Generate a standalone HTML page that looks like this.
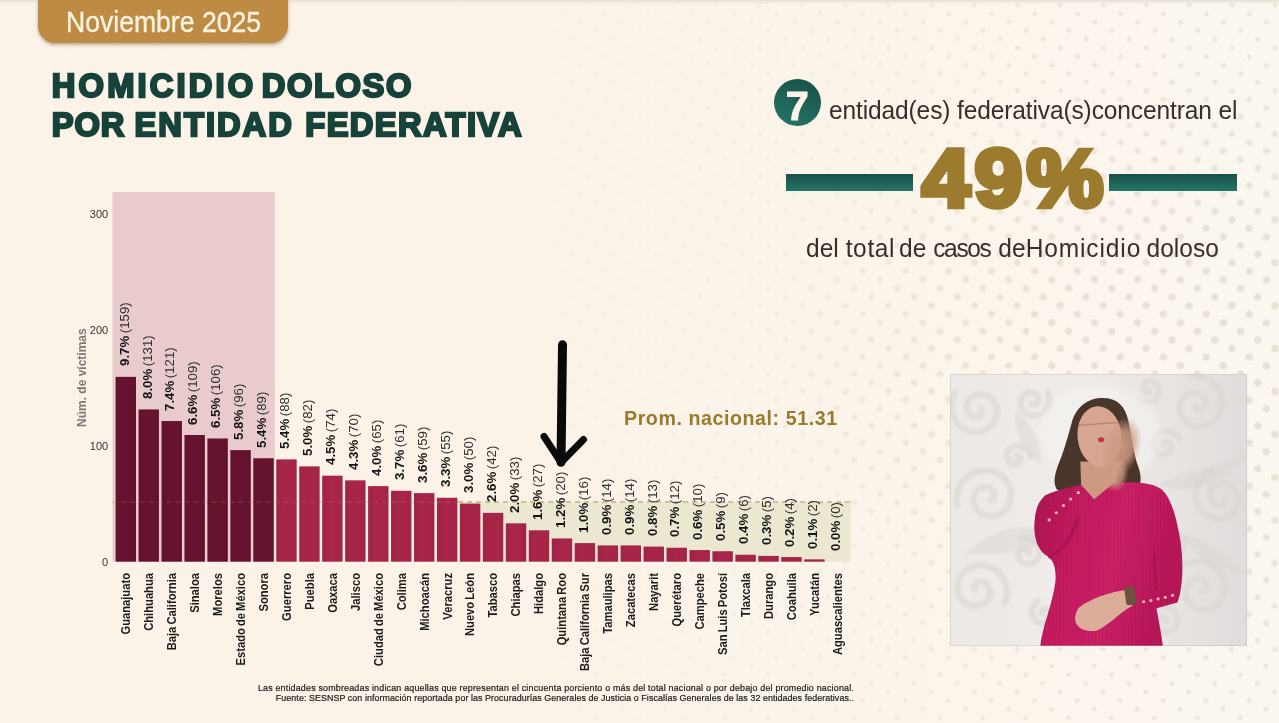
<!DOCTYPE html>
<html lang="es"><head><meta charset="utf-8"><title>Homicidio doloso por entidad federativa</title>
<style>
html,body{margin:0;padding:0}
body{width:1279px;height:723px;overflow:hidden;position:relative;background:#fbf3e8;font-family:"Liberation Sans",sans-serif;color:#222}
#bg{position:absolute;left:0;top:0;width:1279px;height:723px}
.abs{position:absolute}
#tab{position:absolute;left:38.4px;top:0;width:249.6px;height:43.2px;background:#be8b44;border-radius:0 0 17px 17px;box-shadow:0 1.5px 3.5px rgba(110,85,45,.45);color:#fdf3e0;font-size:30.4px;line-height:43px;text-align:center;letter-spacing:0;-webkit-text-stroke:0.35px #fdf3e0}
#title{position:absolute;left:51.8px;top:65.8px;font-weight:bold;font-size:32.7px;line-height:39.3px;color:#17423a;letter-spacing:0.6px;-webkit-text-stroke:2.3px #17423a;paint-order:stroke fill;white-space:nowrap}
.v{position:absolute;width:0;height:0;font-size:13.3px;white-space:nowrap;color:#303030;word-spacing:-1.3px}
.v b{color:#151515}
.v{transform:rotate(-90deg);transform-origin:0 0}
.c{transform:rotate(-90deg) scaleY(1.08);transform-origin:0 0}
.v{line-height:0}
.c{position:absolute;width:0;height:0;font-size:11.2px;font-weight:bold;white-space:nowrap;color:#1b1b1b;line-height:0;word-spacing:-1px}
.c span{position:absolute;right:0;top:0;line-height:0}
  .yt{position:absolute;left:70.2px;width:38px;text-align:right;font-size:11px;color:#333;line-height:12px}
#yl{position:absolute;left:82px;top:426.5px;width:0;height:0;transform:rotate(-90deg);transform-origin:0 0;font-size:12px;font-weight:bold;color:#7a7a7a;white-space:nowrap;line-height:0}
#prom{position:absolute;left:624px;top:406.3px;letter-spacing:0.58px;font-size:19.6px;font-weight:bold;color:#9a7a2c;white-space:nowrap;line-height:24px}
#foot{position:absolute;left:242px;top:682.5px;width:612px;text-align:right;font-size:8.9px;letter-spacing:0.163px;line-height:10.2px;color:#1a1a1a;-webkit-text-stroke:0.2px #1a1a1a;white-space:nowrap}
#r1{position:absolute;left:829px;top:96.4px;font-size:24.5px;letter-spacing:-0.115px;line-height:30px;transform:scaleY(1.05);color:#362f2b;white-space:nowrap}
#r3{position:absolute;left:806px;top:233.9px;font-size:24.5px;letter-spacing:0.04px;line-height:30px;transform:scaleY(1.05);color:#362f2b;white-space:nowrap}
#seven{position:absolute;left:773.5px;top:79px;width:47.4px;height:47.4px;border-radius:50%;background:linear-gradient(200deg,#174f46,#27766a);color:#fbf3e8;font-weight:bold;font-size:41.5px;line-height:54px;text-align:center;-webkit-text-stroke:1px #fbf3e8}
#big{position:absolute;left:922px;top:127.5px;font-size:81.3px;line-height:100px;transform-origin:0 50%;transform:scaleX(1.06);font-weight:bold;color:#9c7a2e;-webkit-text-stroke:5.6px #9c7a2e;letter-spacing:4.2px;white-space:nowrap}
.ln{position:absolute;top:173.5px;height:17px;background:linear-gradient(180deg,#184f47,#267568)}
</style></head><body>
<svg id="bg" viewBox="0 0 1279 723">
<defs>
<pattern id="dots" width="19.2" height="19.2" patternUnits="userSpaceOnUse" patternTransform="rotate(26.6)"><circle cx="9.6" cy="9.6" r="2.4" fill="#eee6db"/></pattern>
<pattern id="dots2" width="19.2" height="19.2" patternUnits="userSpaceOnUse" patternTransform="rotate(26.6)"><circle cx="9.6" cy="9.6" r="3.7" fill="#e9e0d4"/></pattern>
<linearGradient id="fade" x1="0" x2="1"><stop offset="0" stop-color="#fff" stop-opacity="0"/><stop offset=".4" stop-color="#fff" stop-opacity=".05"/><stop offset=".62" stop-color="#fff" stop-opacity=".45"/><stop offset=".8" stop-color="#fff" stop-opacity="1"/><stop offset="1" stop-color="#fff" stop-opacity="1"/></linearGradient>
<radialGradient id="fade2" cx="1" cy=".5" r=".75" gradientTransform="scale(1 1)"><stop offset="0" stop-color="#fff" stop-opacity="1"/><stop offset=".25" stop-color="#fff" stop-opacity=".8"/><stop offset=".55" stop-color="#fff" stop-opacity="0"/></radialGradient>
<linearGradient id="white" x1="0" x2="1"><stop offset=".45" stop-color="#fbf7f1" stop-opacity="0"/><stop offset="1" stop-color="#fbf7f1" stop-opacity=".75"/></linearGradient>
<mask id="m"><rect width="1279" height="723" fill="url(#fade)"/></mask>
<mask id="m2"><rect width="1279" height="723" fill="url(#fade2)"/></mask>
</defs>
<rect width="1279" height="723" fill="url(#white)"/>
<rect width="1279" height="723" fill="url(#dots)" mask="url(#m)"/>
<rect width="1279" height="723" fill="url(#dots2)" mask="url(#m2)"/>
<rect width="1279" height="1.6" fill="#e6e0d7"/><rect y="1.6" width="1279" height="1.6" fill="#f1ebe2"/>
</svg>
<div id="tab"><span style="display:inline-block;transform:scaleX(0.875)">Noviembre 2025</span></div>
<div id="title"><span style="letter-spacing:3.15px">HOMICIDIO</span><span style="letter-spacing:0;word-spacing:-3.6px"> </span><span style="letter-spacing:1.6px">DOLOSO</span><br><span style="letter-spacing:0.9px">POR</span><span style="letter-spacing:1.6px;word-spacing:-1.5px"> </span><span style="letter-spacing:2px">ENTIDAD</span><span style="letter-spacing:1.6px;word-spacing:0.8px"> </span><span style="letter-spacing:1.38px">FEDERATIVA</span></div>
<svg class="abs" style="left:0;top:0" width="1279" height="723" viewBox="0 0 1279 723">
<defs>
<linearGradient id="gd" x1="0" x2="1" y1="0" y2="0" gradientUnits="objectBoundingBox"><stop offset="0" stop-color="#63122c"/><stop offset=".5" stop-color="#681430"/><stop offset="1" stop-color="#62122c"/></linearGradient>
<linearGradient id="gr" x1="0" x2="1" y1="0" y2="0" gradientUnits="objectBoundingBox"><stop offset="0" stop-color="#a12346"/><stop offset=".5" stop-color="#a92649"/><stop offset="1" stop-color="#a32447"/></linearGradient>
</defs>
<rect x="112.5" y="192" width="162.3" height="369.70000000000005" fill="#eacbcd"/>
<rect x="458.5" y="502.2" width="392.3" height="59.50000000000006" fill="#ebe7d0"/>
<line x1="112.5" x2="458" y1="502.2" y2="502.2" stroke="#b7a45e" stroke-width="1.5" stroke-dasharray="5.2 3.8" opacity=".4"/>
<line x1="458" x2="851" y1="502" y2="502" stroke="#bfae6a" stroke-width="1.6" stroke-dasharray="5.2 3.8" opacity=".9"/>
<rect x="115.60" y="376.86" width="20.4" height="184.84" fill="url(#gd)"/>
<rect x="138.56" y="409.41" width="20.4" height="152.29" fill="url(#gd)"/>
<rect x="161.51" y="421.04" width="20.4" height="140.66" fill="url(#gd)"/>
<rect x="184.46" y="434.99" width="20.4" height="126.71" fill="url(#gd)"/>
<rect x="207.42" y="438.48" width="20.4" height="123.23" fill="url(#gd)"/>
<rect x="230.38" y="450.10" width="20.4" height="111.60" fill="url(#gd)"/>
<rect x="253.33" y="458.24" width="20.4" height="103.46" fill="url(#gd)"/>
<rect x="276.28" y="459.40" width="20.4" height="102.30" fill="url(#gr)"/>
<rect x="299.24" y="466.38" width="20.4" height="95.33" fill="url(#gr)"/>
<rect x="322.19" y="475.68" width="20.4" height="86.03" fill="url(#gr)"/>
<rect x="345.15" y="480.33" width="20.4" height="81.38" fill="url(#gr)"/>
<rect x="368.11" y="486.14" width="20.4" height="75.56" fill="url(#gr)"/>
<rect x="391.06" y="490.79" width="20.4" height="70.91" fill="url(#gr)"/>
<rect x="414.01" y="493.11" width="20.4" height="68.59" fill="url(#gr)"/>
<rect x="436.97" y="497.76" width="20.4" height="63.94" fill="url(#gr)"/>
<rect x="459.92" y="503.58" width="20.4" height="58.13" fill="url(#gr)"/>
<rect x="482.88" y="512.88" width="20.4" height="48.83" fill="url(#gr)"/>
<rect x="505.83" y="523.34" width="20.4" height="38.36" fill="url(#gr)"/>
<rect x="528.79" y="530.31" width="20.4" height="31.39" fill="url(#gr)"/>
<rect x="551.75" y="538.45" width="20.4" height="23.25" fill="url(#gr)"/>
<rect x="574.70" y="543.10" width="20.4" height="18.60" fill="url(#gr)"/>
<rect x="597.65" y="545.43" width="20.4" height="16.28" fill="url(#gr)"/>
<rect x="620.61" y="545.43" width="20.4" height="16.28" fill="url(#gr)"/>
<rect x="643.56" y="546.59" width="20.4" height="15.11" fill="url(#gr)"/>
<rect x="666.52" y="547.75" width="20.4" height="13.95" fill="url(#gr)"/>
<rect x="689.48" y="550.08" width="20.4" height="11.62" fill="url(#gr)"/>
<rect x="712.43" y="551.24" width="20.4" height="10.46" fill="url(#gr)"/>
<rect x="735.38" y="554.73" width="20.4" height="6.98" fill="url(#gr)"/>
<rect x="758.34" y="555.89" width="20.4" height="5.81" fill="url(#gr)"/>
<rect x="781.29" y="557.05" width="20.4" height="4.65" fill="url(#gr)"/>
<rect x="804.25" y="559.38" width="20.4" height="2.33" fill="url(#gr)"/>
<line x1="112.5" x2="458" y1="502.2" y2="502.2" stroke="#c9a77a" stroke-width="1.2" stroke-dasharray="5.2 3.8" opacity=".22"/>
</svg>
<div class="yt" style="top:207.8px">300</div>
<div class="yt" style="top:323.8px">200</div>
<div class="yt" style="top:440.2px">100</div>
<div class="yt" style="top:556px">0</div>
<div id="yl">Núm. de víctimas</div>
<div class="v" style="left:124.5px;top:366.4px"><b>9.7%</b> (159)</div>
<div class="c" style="left:126.1px;top:572.7px"><span>Guanajuato</span></div>
<div class="v" style="left:147.5px;top:398.9px"><b>8.0%</b> (131)</div>
<div class="c" style="left:149.1px;top:572.7px"><span>Chihuahua</span></div>
<div class="v" style="left:170.4px;top:410.5px"><b>7.4%</b> (121)</div>
<div class="c" style="left:172.0px;top:572.7px"><span>Baja California</span></div>
<div class="v" style="left:193.4px;top:424.5px"><b>6.6%</b> (109)</div>
<div class="c" style="left:195.0px;top:572.7px"><span>Sinaloa</span></div>
<div class="v" style="left:216.3px;top:428.0px"><b>6.5%</b> (106)</div>
<div class="c" style="left:217.9px;top:572.7px"><span>Morelos</span></div>
<div class="v" style="left:239.3px;top:439.6px"><b>5.8%</b> (96)</div>
<div class="c" style="left:240.9px;top:572.7px"><span>Estado de México</span></div>
<div class="v" style="left:262.2px;top:447.7px"><b>5.4%</b> (89)</div>
<div class="c" style="left:263.8px;top:572.7px"><span>Sonora</span></div>
<div class="v" style="left:285.2px;top:448.9px"><b>5.4%</b> (88)</div>
<div class="c" style="left:286.8px;top:572.7px"><span>Guerrero</span></div>
<div class="v" style="left:308.1px;top:455.9px"><b>5.0%</b> (82)</div>
<div class="c" style="left:309.7px;top:572.7px"><span>Puebla</span></div>
<div class="v" style="left:331.1px;top:465.2px"><b>4.5%</b> (74)</div>
<div class="c" style="left:332.7px;top:572.7px"><span>Oaxaca</span></div>
<div class="v" style="left:354.0px;top:469.8px"><b>4.3%</b> (70)</div>
<div class="c" style="left:355.6px;top:572.7px"><span>Jalisco</span></div>
<div class="v" style="left:377.0px;top:475.6px"><b>4.0%</b> (65)</div>
<div class="c" style="left:378.6px;top:572.7px"><span>Ciudad de México</span></div>
<div class="v" style="left:400.0px;top:480.3px"><b>3.7%</b> (61)</div>
<div class="c" style="left:401.6px;top:572.7px"><span>Colima</span></div>
<div class="v" style="left:422.9px;top:482.6px"><b>3.6%</b> (59)</div>
<div class="c" style="left:424.5px;top:572.7px"><span>Michoacán</span></div>
<div class="v" style="left:445.9px;top:487.3px"><b>3.3%</b> (55)</div>
<div class="c" style="left:447.5px;top:572.7px"><span>Veracruz</span></div>
<div class="v" style="left:468.8px;top:493.1px"><b>3.0%</b> (50)</div>
<div class="c" style="left:470.4px;top:572.7px"><span>Nuevo León</span></div>
<div class="v" style="left:491.8px;top:502.4px"><b>2.6%</b> (42)</div>
<div class="c" style="left:493.4px;top:572.7px"><span>Tabasco</span></div>
<div class="v" style="left:514.7px;top:512.8px"><b>2.0%</b> (33)</div>
<div class="c" style="left:516.3px;top:572.7px"><span>Chiapas</span></div>
<div class="v" style="left:537.7px;top:519.8px"><b>1.6%</b> (27)</div>
<div class="c" style="left:539.3px;top:572.7px"><span>Hidalgo</span></div>
<div class="v" style="left:560.6px;top:528.0px"><b>1.2%</b> (20)</div>
<div class="c" style="left:562.2px;top:572.7px"><span>Quintana Roo</span></div>
<div class="v" style="left:583.6px;top:532.6px"><b>1.0%</b> (16)</div>
<div class="c" style="left:585.2px;top:572.7px"><span>Baja California Sur</span></div>
<div class="v" style="left:606.6px;top:534.9px"><b>0.9%</b> (14)</div>
<div class="c" style="left:608.2px;top:572.7px"><span>Tamaulipas</span></div>
<div class="v" style="left:629.5px;top:534.9px"><b>0.9%</b> (14)</div>
<div class="c" style="left:631.1px;top:572.7px"><span>Zacatecas</span></div>
<div class="v" style="left:652.5px;top:536.1px"><b>0.8%</b> (13)</div>
<div class="c" style="left:654.1px;top:572.7px"><span>Nayarit</span></div>
<div class="v" style="left:675.4px;top:537.2px"><b>0.7%</b> (12)</div>
<div class="c" style="left:677.0px;top:572.7px"><span>Querétaro</span></div>
<div class="v" style="left:698.4px;top:539.6px"><b>0.6%</b> (10)</div>
<div class="c" style="left:700.0px;top:572.7px"><span>Campeche</span></div>
<div class="v" style="left:721.3px;top:540.7px"><b>0.5%</b> (9)</div>
<div class="c" style="left:722.9px;top:572.7px"><span>San Luis Potosí</span></div>
<div class="v" style="left:744.3px;top:544.2px"><b>0.4%</b> (6)</div>
<div class="c" style="left:745.9px;top:572.7px"><span>Tlaxcala</span></div>
<div class="v" style="left:767.2px;top:545.4px"><b>0.3%</b> (5)</div>
<div class="c" style="left:768.8px;top:572.7px"><span>Durango</span></div>
<div class="v" style="left:790.2px;top:546.6px"><b>0.2%</b> (4)</div>
<div class="c" style="left:791.8px;top:572.7px"><span>Coahuila</span></div>
<div class="v" style="left:813.1px;top:548.9px"><b>0.1%</b> (2)</div>
<div class="c" style="left:814.8px;top:572.7px"><span>Yucatán</span></div>
<div class="v" style="left:836.1px;top:551.2px"><b>0.0%</b> (0)</div>
<div class="c" style="left:837.7px;top:572.7px"><span>Aguascalientes</span></div>
<div id="prom">Prom. nacional: 51.31</div>
<svg class="abs" style="left:530px;top:335px" width="70" height="140" viewBox="0 0 70 140"><path d="M32.5 9.8 L31 127.3" fill="none" stroke="#0a0a0a" stroke-width="9" stroke-linecap="round"/><path d="M14 101.5 L31 127.5 L53.5 104.5" fill="none" stroke="#0a0a0a" stroke-width="7" stroke-linecap="round" stroke-linejoin="round"/></svg>
<div id="foot"><span style="letter-spacing:0.2px">Las entidades sombreadas indican aquellas que representan el cincuenta porciento o más del total nacional o por debajo del promedio nacional.</span><br><span style="letter-spacing:0.075px">Fuente: SESNSP con información reportada por las Procuradurías Generales de Justicia o Fiscalías Generales de las 32 entidades federativas..</span></div>
<div id="seven">7</div>
<div id="r1">entidad(es) federativa(s)concentran el</div>
<div class="ln" style="left:785.5px;width:127px"></div>
<div class="ln" style="left:1109px;width:128px"></div>
<div id="big">49%</div>
<div id="r3">del <span style="letter-spacing:0.64px">total</span><span style="word-spacing:-3px"> </span>de <span style="letter-spacing:-1.36px">casos</span><span style="word-spacing:1px"> </span>de<span style="letter-spacing:0.89px">Homicidio</span><span style="word-spacing:-1.6px"> </span>doloso</div>
<svg class="abs" style="left:950px;top:374px" width="297" height="272" viewBox="0 0 297 272">
<defs>
<linearGradient id="pbg" x1="0" x2="1" y1="0" y2="0"><stop offset="0" stop-color="#ece9e6"/><stop offset=".4" stop-color="#efece9"/><stop offset=".75" stop-color="#e7e4e2"/><stop offset="1" stop-color="#dfdcdb"/></linearGradient>
<linearGradient id="sw" x1="0" x2="1" y1="0" y2=".25"><stop offset="0" stop-color="#a9114e"/><stop offset=".3" stop-color="#c41b5f"/><stop offset=".62" stop-color="#cb2166"/><stop offset="1" stop-color="#b71658"/></linearGradient>
<filter id="b1" filterUnits="userSpaceOnUse" x="-50" y="-50" width="950" height="850"><feGaussianBlur stdDeviation="1.2"/></filter>
<filter id="b2" filterUnits="userSpaceOnUse" x="-50" y="-50" width="950" height="850"><feGaussianBlur stdDeviation="2.2"/></filter>
<filter id="b3" filterUnits="userSpaceOnUse" x="-50" y="-50" width="950" height="850"><feGaussianBlur stdDeviation="4"/></filter>
<filter id="b6" filterUnits="userSpaceOnUse" x="-50" y="-50" width="950" height="850"><feGaussianBlur stdDeviation="9"/></filter>
<pattern id="rib" width="9" height="9" patternUnits="userSpaceOnUse"><rect x="0" y="0" width="3" height="9" fill="#7a0a38"/></pattern>
<radialGradient id="hg"><stop offset="0" stop-color="#cd9a84" stop-opacity=".95"/><stop offset=".55" stop-color="#cd9a84" stop-opacity=".8"/><stop offset="1" stop-color="#cd9a84" stop-opacity="0"/></radialGradient>
<clipPath id="pc"><rect width="297" height="272"/></clipPath>
</defs>
<rect width="297" height="272" fill="url(#pbg)"/>
<g clip-path="url(#pc)">
<g transform="scale(0.401) translate(-25,-22)">
<!-- wallpaper swirls -->
<g fill="none" stroke="#dad6d2" stroke-width="16" stroke-linecap="round" opacity=".6" filter="url(#b2)">
<path d="M103 110 L104 112 L105 113 L105 115 L105 118 L104 120 L103 122 L101 124 L99 126 L96 127 L93 128 L90 129 L86 128 L83 128 L79 126 L76 124 L73 121 L71 117 L69 113 L67 109 L67 104 L67 99 L69 94 L71 89 L74 85 L78 81 L83 77 L88 75 L94 73 L101 72 L107 73 L114 75 L120 77 L126 81 L131 86 L135 92 L139 99 L141 106 L142 114 L142 122 L140 130 L137 138 L132 145 L127 152 L120 157 L112 162 L103 165 L94 167 L84 167 L75 165 L65 162 L56 157 L48 150 L41 143 L36 133 L32 123 L29 113 L29 102 L30 90 L33 79 L38 69"/>
<path d="M228 95 L228 96 L229 97 L230 98 L231 98 L233 99 L234 99 L236 99 L238 98 L239 97 L241 96 L242 95 L243 93 L244 91 L245 89 L245 87 L245 84 L245 82 L244 79 L243 77 L241 75 L239 73 L237 71 L234 69 L231 68 L228 68 L225 68 L221 68 L218 69 L214 71 L211 73 L208 75 L206 78 L204 82 L202 86 L201 90 L201 94 L201 98 L202 103 L204 107 L206 111 L209 115 L212 118 L217 121 L221 123 L226 125 L231 126 L236 126 L242 125 L247 124 L252 121 L257 118 L261 114 L265 110 L268 105 L271 99 L272 93 L273 87 L273 80 L271 74 L269 68"/>
<path d="M124 337 L126 337 L128 336 L130 335 L132 334 L134 332 L135 329 L136 326 L136 323 L135 319 L134 316 L132 313 L129 310 L126 307 L122 305 L117 304 L113 304 L108 304 L102 306 L98 309 L93 312 L89 317 L86 322 L84 328 L84 335 L84 342 L85 348 L88 355 L92 361 L98 366 L104 371 L111 374 L119 376 L128 377 L136 376 L145 373 L153 369 L160 364 L167 357 L172 348 L175 339 L177 329 L177 319 L176 308 L172 298 L166 289 L159 280 L150 273 L140 268 L129 264 L117 262 L105 263 L92 265 L81 270 L70 277 L60 286 L52 297 L47 309 L43 322 L41 336 L43 350"/>
<path d="M87 561 L86 560 L85 558 L84 556 L84 554 L85 551 L85 549 L87 546 L89 544 L91 542 L94 541 L98 540 L101 540 L105 540 L109 541 L113 543 L116 545 L119 549 L122 553 L124 557 L125 562 L126 567 L125 573 L123 578 L121 583 L117 588 L113 593 L107 596 L101 599 L95 600 L88 601 L81 600 L74 598 L67 595 L61 591 L55 585 L50 578 L47 571 L45 563 L44 554 L44 546 L46 537 L50 528 L55 521 L62 514 L69 508 L78 503 L88 500 L98 498 L108 499 L119 501 L129 505 L138 510 L147 517 L154 526 L160 536 L164 547 L167 559 L167 571 L165 583 L161 595"/>
<path d="M221 470 L222 469 L222 468 L222 467 L222 466 L222 464 L221 463 L221 462 L220 461 L219 460 L217 459 L216 458 L214 457 L212 457 L210 457 L208 457 L206 458 L204 458 L203 460 L201 461 L199 463 L198 465 L197 467 L196 470 L196 472 L196 475 L196 478 L197 481 L198 484 L199 486 L201 489 L204 491 L207 493 L210 494 L213 495 L216 496 L220 496 L224 496 L227 495 L231 493 L234 491 L237 489 L240 486 L243 483 L245 479 L246 475 L247 471 L247 466 L247 462 L246 457 L245 453 L243 449 L240 445 L236 441 L233 438 L228 435 L224 433 L219 432 L213 431 L208 431 L203 432"/>
<path d="M637 107 L638 109 L639 110 L641 111 L643 112 L645 112 L648 112 L651 112 L653 110 L656 109 L658 106 L660 103 L661 100 L662 96 L662 92 L662 88 L660 84 L658 80 L655 76 L651 73 L647 70 L642 69 L636 68 L631 68 L625 69 L619 71 L614 74 L609 78 L605 83 L601 89 L599 95 L597 102 L597 110 L598 117 L601 124 L605 131 L610 137 L616 143 L623 147 L631 151 L639 153 L648 153 L658 152 L666 149 L675 145 L683 139 L690 132 L696 124 L700 115 L703 105 L704 94 L703 83 L700 72 L696 62 L689 53 L681 44 L672 37 L661 32 L650 28 L638 26 L625 26"/>
<path d="M708 330 L709 332 L709 334 L710 336 L709 338 L708 340 L707 342 L705 344 L702 346 L699 347 L696 348 L693 348 L689 347 L685 346 L682 344 L679 341 L677 337 L675 333 L673 328 L673 323 L674 318 L675 313 L678 308 L682 304 L686 300 L691 297 L697 295 L703 294 L710 294 L717 296 L723 298 L729 302 L734 307 L739 313 L742 320 L744 328 L745 336 L744 344 L742 352 L738 360 L733 367 L727 373 L719 378 L710 381 L701 383 L691 384 L682 382 L672 379 L663 374 L655 368 L648 360 L643 351 L639 340 L637 329 L637 318 L639 307 L644 296 L650 286 L658 277 L667 269 L678 263"/>
<path d="M654 567 L656 567 L658 566 L660 566 L662 564 L664 562 L665 560 L666 557 L667 554 L666 551 L666 547 L664 544 L662 541 L659 538 L656 536 L651 534 L647 533 L642 533 L637 533 L632 535 L627 537 L623 541 L619 545 L616 550 L613 556 L612 562 L612 568 L613 575 L615 582 L618 588 L622 594 L628 599 L634 604 L641 607 L649 609 L658 609 L666 609 L675 606 L683 603 L690 597 L697 591 L702 583 L707 574 L709 565 L711 555 L710 544 L708 534 L703 524 L698 515 L690 507 L681 500 L671 494 L660 490 L648 488 L636 489 L624 491 L612 495 L601 501 L591 510 L582 520 L575 531"/>
<path d="M556 195 L556 194 L557 194 L558 193 L559 192 L560 191 L561 191 L562 190 L564 190 L565 190 L567 191 L569 191 L570 192 L572 193 L573 195 L574 197 L575 198 L576 200 L576 203 L576 205 L576 207 L575 210 L574 212 L573 214 L571 216 L569 218 L566 220 L564 221 L561 222 L558 222 L555 222 L552 222 L548 221 L545 220 L542 218 L540 216 L537 213 L535 210 L533 207 L532 203 L531 199 L531 195 L531 191 L532 187 L534 183 L536 180 L539 176 L542 173 L545 170 L549 168 L554 166 L558 165 L563 165 L568 165 L573 166 L578 167 L582 169 L587 172 L590 176 L594 180 L597 184"/>
<path d="M588 445 L587 445 L586 445 L585 444 L584 444 L583 443 L582 443 L582 442 L581 440 L581 439 L580 438 L580 436 L580 435 L581 433 L581 432 L582 430 L583 429 L585 428 L586 426 L588 426 L590 425 L592 425 L594 425 L597 425 L599 426 L601 427 L603 428 L605 429 L607 431 L608 434 L610 436 L610 439 L611 442 L611 444 L611 447 L610 450 L609 453 L607 456 L605 459 L603 461 L600 463 L597 465 L594 466 L590 466 L586 467 L583 466 L579 466 L575 464 L572 463 L568 460 L566 457 L563 454 L561 451 L559 447 L558 442 L558 438 L558 433 L558 429 L560 425 L562 420 L564 416"/>
<path d="M191 225 L192 225 L193 225 L194 225 L195 225 L196 225 L197 226 L198 227 L199 228 L199 229 L200 230 L200 231 L201 232 L201 234 L201 235 L200 237 L200 239 L199 240 L198 242 L197 243 L195 244 L193 245 L191 246 L189 246 L187 247 L185 247 L183 246 L181 246 L178 245 L176 244 L174 242 L172 240 L171 238 L169 236 L168 233 L168 231 L167 228 L167 225 L167 222 L168 219 L169 216 L171 213 L173 210 L175 208 L178 206 L181 204 L184 203 L187 202 L191 201 L195 201 L199 201 L202 202 L206 203 L209 205 L213 207 L216 210 L218 213 L221 217 L223 221 L224 225 L225 229"/>
<path d="M565 640 L566 639 L566 638 L566 637 L566 636 L566 635 L566 634 L565 633 L564 631 L563 630 L562 629 L561 629 L559 628 L558 628 L556 628 L554 628 L552 628 L550 629 L548 630 L546 632 L545 633 L543 635 L542 637 L542 640 L541 642 L541 645 L541 648 L542 651 L543 653 L545 656 L547 658 L549 660 L552 662 L555 664 L558 665 L561 665 L565 666 L568 665 L572 664 L576 663 L579 661 L582 659 L585 656 L587 653 L589 649 L591 645 L592 641 L592 636 L592 632 L591 627 L590 623 L587 619 L585 615 L581 611 L578 608 L573 605 L569 603 L564 602 L558 601 L553 601 L548 602"/>
<path d="M255 621 L255 620 L254 619 L254 618 L253 618 L253 616 L253 615 L254 614 L254 613 L255 612 L256 611 L257 610 L258 609 L259 609 L261 608 L262 608 L264 608 L266 608 L267 608 L269 609 L271 610 L272 611 L274 612 L275 614 L276 616 L277 618 L278 620 L278 622 L278 624 L278 627 L278 629 L277 632 L276 634 L274 636 L272 638 L270 640 L267 642 L265 643 L262 644 L259 644 L256 645 L253 644 L249 644 L246 643 L243 641 L240 639 L238 637 L235 634 L233 631 L232 628 L230 624 L230 620 L229 617 L229 613 L230 609 L231 605 L233 601 L235 597 L238 594 L241 591 L245 589"/>
<path d="M523 64 L522 65 L522 66 L521 66 L520 67 L520 67 L519 68 L517 68 L516 68 L515 68 L514 68 L512 67 L511 67 L510 66 L509 64 L508 63 L507 62 L507 60 L506 58 L506 56 L506 55 L506 53 L507 51 L508 49 L509 47 L511 45 L512 44 L514 42 L516 41 L519 41 L521 40 L524 40 L526 40 L529 40 L532 41 L534 43 L537 44 L539 46 L541 48 L543 51 L544 54 L545 57 L546 60 L546 63 L546 67 L546 70 L545 73 L543 77 L541 80 L539 83 L536 85 L533 88 L530 89 L526 91 L522 92 L518 92 L514 92 L510 92 L506 91 L502 89 L498 87"/>
</g>
<g fill="#dad6d3" opacity=".5" filter="url(#b2)">
<path d="M300 420 C200 380 120 420 60 470 C140 470 220 480 300 420 Z"/>
<path d="M540 300 C620 250 700 260 760 220 C720 290 640 330 540 300 Z"/>
<path d="M250 250 C200 200 180 160 190 110 C230 150 260 200 250 250 Z"/>
<path d="M600 420 C660 430 720 470 750 520 C690 510 630 480 600 420 Z"/>
</g>
<ellipse cx="400" cy="170" rx="150" ry="120" fill="#f5f3f1" opacity=".6" filter="url(#b6)"/>
<g filter="url(#b1)">
<!-- hair -->
<path d="M290 308 C280 285 290 262 300 236 C312 205 318 180 328 146 C336 112 362 84 400 82 C440 80 462 100 470 140 C478 180 482 210 490 240 C498 262 504 280 498 300 C490 322 470 324 450 314 L434 294 L386 332 L352 298 C330 314 300 320 290 308 Z" fill="#4a352b"/>
<!-- neck -->
<path d="M350 240 L352 298 L387 334 L436 296 L452 240 Z" fill="#cd9982"/>
<!-- face -->
<ellipse cx="398" cy="178" rx="55" ry="76" fill="#d7a690" transform="rotate(-6 398 178)"/>
<path d="M345 150 L455 142" stroke="#8a6a60" stroke-width="3" opacity=".55"/>
<ellipse cx="402" cy="186" rx="8" ry="6" fill="#c23448"/>
<!-- body -->
<path d="M250 702 C255 650 280 600 288 540 C290 510 285 490 270 478 C245 465 232 430 236 390 C238 360 245 340 262 325 C290 310 330 305 352 298 L385 334 L434 294 C470 290 520 290 545 305 C575 320 590 380 600 440 C608 500 605 560 592 592 L540 606 C546 640 552 670 556 702 Z" fill="url(#sw)"/>
<path d="M250 702 C255 650 280 600 288 540 C290 510 285 490 270 478 C245 465 232 430 236 390 C238 360 245 340 262 325 C290 310 330 305 352 298 L385 334 L434 294 C470 290 520 290 545 305 C575 320 590 380 600 440 C608 500 605 560 592 592 L540 606 C546 640 552 670 556 702 Z" fill="url(#rib)" opacity=".16"/>
<path d="M270 478 C300 470 330 430 345 380" stroke="#9c0f47" stroke-width="10" fill="none" opacity=".55"/>
<path d="M535 470 C532 500 536 530 540 560" stroke="#8f0d42" stroke-width="7" fill="none" opacity=".5"/>
<!-- lower hand -->
<path d="M345 606 C370 585 420 565 470 560 L480 600 C450 615 420 650 390 662 C360 668 320 650 345 606 Z" fill="#dcae99"/>
<rect x="462" y="552" width="26" height="46" rx="6" fill="#6b5140" transform="rotate(-8 475 575)"/>
<!-- buttons -->
<g fill="#f0b8a8"><circle cx="272" cy="386" r="4"/><circle cx="290" cy="368" r="4"/><circle cx="308" cy="350" r="4"/><circle cx="326" cy="334" r="4"/><circle cx="345" cy="318" r="4"/>
<circle cx="508" cy="590" r="4"/><circle cx="526" cy="587" r="4"/><circle cx="544" cy="583" r="4"/><circle cx="562" cy="579" r="4"/><circle cx="580" cy="574" r="4"/></g>
</g>
<!-- raised blurred hand -->
<ellipse cx="452" cy="205" rx="48" ry="78" fill="url(#hg)" transform="rotate(18 452 205)"/>
<ellipse cx="436" cy="268" rx="34" ry="48" fill="url(#hg)"/>
</g>
</g>
<rect x=".5" y=".5" width="296" height="271" fill="none" stroke="#b9b2aa" stroke-opacity=".35" stroke-width="1"/>
</svg>

</body></html>
